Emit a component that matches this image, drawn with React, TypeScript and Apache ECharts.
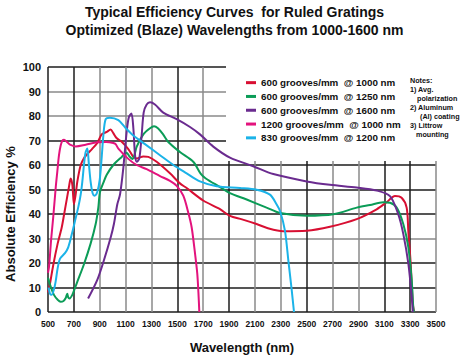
import React, { useEffect, useRef } from 'react';
import * as echarts from 'echarts';

const FONT = '"Liberation Sans", Arial, Helvetica, sans-serif';

const titleLines = [
  'Typical Efficiency Curves  for Ruled Gratings',
  'Optimized (Blaze) Wavelengths from 1000-1600 nm',
];
const xAxisName = 'Wavelength (nm)';
const yAxisName = 'Absolute Efficiency %';

const seriesNames = [
  '600 grooves/mm  @ 1000 nm',
  '600 grooves/mm  @ 1250 nm',
  '600 grooves/mm  @ 1600 nm',
  '1200 grooves/mm  @ 1000 nm',
  '830 grooves/mm  @ 1200 nm',
];
const seriesColors = ['#d80f32', '#0b9c57', '#6a2b8f', '#e3137d', '#1bb3e8'];

const red600at1000 = [
  [500, 8], [510, 10], [540, 19], [575, 28], [606, 34.5], [625, 40], [645, 46], [662, 51],
  [675, 54.5], [688, 52], [701, 44], [714, 48], [727, 53.3], [753, 60], [780, 63], [804, 64.5],
  [840, 66.5], [881, 69], [915, 72.5], [954, 73.5], [984, 74.5], [1005, 73], [1030, 71],
  [1070, 69.5], [1121, 66.5], [1160, 63.3], [1186, 62.7], [1237, 63.5], [1276, 63.3],
  [1340, 61.3], [1443, 56.6], [1520, 52.5], [1572, 50.6], [1700, 45.5], [1830, 42],
  [1907, 39.2], [2000, 37.8], [2113, 35.9], [2200, 34.2], [2317, 33], [2500, 33.2],
  [2680, 34.8], [2887, 37.9], [3041, 41.9], [3118, 44.8], [3183, 47.3], [3234, 46.6],
  [3273, 42.6], [3286, 33], [3304, 20], [3320, 4], [3330, 0],
];
const green600at1250 = [
  [500, 14], [521, 10.4], [546, 7], [575, 5], [598, 4.2], [620, 4.5], [637, 5.7], [649, 7.5],
  [656, 6], [667, 5.5], [688, 7], [710, 10], [727, 12.4], [778, 19.5], [830, 28], [869, 36],
  [889, 42.6], [902, 49], [930, 53], [954, 56], [1005, 60], [1070, 63.3], [1108, 65],
  [1130, 63.5], [1152, 62.5], [1168, 64], [1186, 67.5], [1237, 72.5], [1289, 75], [1320, 75.8],
  [1350, 75], [1390, 72.5], [1430, 69.4], [1520, 65.3], [1623, 61.3], [1680, 56.5],
  [1720, 54.5], [1830, 51], [1907, 48.5], [2036, 45.9], [2190, 42.6], [2294, 40.4],
  [2500, 39.3], [2706, 39.9], [2887, 42.6], [2990, 43.7], [3092, 44.8], [3144, 44.6],
  [3196, 42.6], [3247, 35.9], [3286, 26.5], [3312, 13.1], [3324, 2], [3330, 0],
];
const purple600at1600 = [
  [810, 5.5], [881, 13.1], [933, 21.2], [985, 30.5], [1010, 36], [1036, 44], [1057, 48],
  [1082, 58.6], [1108, 73.4], [1125, 79.5], [1145, 81], [1160, 75], [1173, 64], [1186, 61.3],
  [1206, 62.7], [1224, 72], [1240, 81.5], [1263, 84.7], [1289, 85.6], [1327, 84.7],
  [1391, 81.4], [1495, 78.7], [1598, 75.5], [1675, 72.5], [1778, 67.5], [1907, 63],
  [2087, 59.5], [2242, 56.3], [2500, 53.3], [2680, 51.9], [2887, 50.8], [3041, 49.6],
  [3144, 47.3], [3208, 39.9], [3247, 31.9], [3286, 19.8], [3312, 6.4], [3320, 0],
];
const magenta1200at1000 = [
  [500, 16], [508, 18.5], [525, 30], [541, 39], [560, 51], [572, 57.3], [585, 64], [598, 68],
  [612, 70], [624, 70.3], [645, 69.5], [670, 68.3], [714, 67.6], [791, 68.3], [881, 69.3],
  [950, 69.4], [1005, 69], [1023, 68.5], [1044, 66.7], [1121, 62.5], [1186, 60], [1263, 58.3],
  [1366, 55.5], [1443, 53.5], [1495, 51.5], [1546, 47.5], [1585, 40.5], [1611, 34.5],
  [1637, 23.8], [1654, 15.8], [1663, 8], [1670, 0],
];
const cyan830at1200 = [
  [505, 10], [515, 7.5], [528, 7], [554, 11], [575, 18], [593, 21.8], [631, 24], [657, 26.5],
  [690, 33], [709, 37.2], [735, 43], [753, 48], [765, 53], [778, 60], [790, 65], [804, 66.7],
  [815, 61], [830, 53], [845, 48.5], [860, 47.5], [881, 49], [900, 54], [915, 63], [928, 72],
  [946, 78.7], [979, 79.3], [1044, 78.3], [1095, 75.4], [1160, 72], [1263, 68], [1366, 64],
  [1469, 60], [1572, 56.6], [1675, 53.3], [1804, 51.3], [1984, 50.6], [2113, 49.9],
  [2216, 47.9], [2268, 43.9], [2294, 41.2], [2332, 33.2], [2358, 21.2], [2384, 9.1], [2402, 0],
];
const seriesData = [red600at1000, green600at1250, purple600at1600, magenta1200at1000, cyan830at1200];

// vertical gridlines: labelled ticks and their shade (k = black, g = gray)
const xTicks = [500, 700, 900, 1100, 1300, 1500, 1700, 1900, 2100, 2300, 2500, 2700, 2900, 3100, 3300, 3500];
const xTickShade = ['k', 'k', 'g', 'g', 'g', 'k', 'g', 'k', 'g', 'g', 'k', 'g', 'g', 'k', 'k', 'g'];
const yTicks = [0, 10, 20, 30, 40, 50, 60, 70, 80, 90, 100];
const yTickShade = ['k', 'k', 'k', 'g', 'k', 'k', 'k', 'k', 'g', 'g', 'k'];

const notesLines = ['Notes:', '1) Avg.', 'polarization', '2) Aluminum', '(Al) coating', '3) Littrow', 'mounting'];
const notesIndent = [0, 0, 7, 0, 10, 0, 6];

const SHADE: Record<string, string> = { k: '#1c1c1c', g: '#8a8a8a' };

export default function App() {
  const ref = useRef<HTMLDivElement>(null);
  useEffect(() => {
    document.body.style.margin = '0';
    if (!ref.current) return;
    const chart = echarts.init(ref.current, undefined, { renderer: 'svg' });

    const xMin = xTicks[0];
    const xMax = xTicks[xTicks.length - 1];
    const step = (xTicks[1] - xTicks[0]) / 2;
    const xColors: string[] = [];
    for (let v = xMin; v <= xMax; v += step) {
      const idx = xTicks.indexOf(v);
      xColors.push(idx >= 0 ? SHADE[xTickShade[idx]] : 'rgba(0,0,0,0)');
    }
    const yColors = yTicks.map((_, i) => SHADE[yTickShade[i]]);

    const gridLeft = 48, gridTop = 67, gridRight = 33, gridBottom = 43;

    const graphics: any[] = [
      {
        type: 'rect', z: 1, silent: true,
        shape: { x: 226, y: 50, width: 230, height: 111 },
        style: { fill: '#ffffff' },
      },
      {
        type: 'text', z: 5, x: 10, y: 214, rotation: Math.PI / 2,
        style: {
          text: yAxisName, font: `bold 13px ${FONT}`, fill: '#111',
          textAlign: 'center', textVerticalAlign: 'middle',
        },
      },
    ];
    notesLines.forEach((t, i) => {
      graphics.push({
        type: 'text', z: 5, x: 410 + notesIndent[i], y: 80 + i * 9,
        style: {
          text: t, font: `bold 7.2px ${FONT}`, fill: '#111',
          textAlign: 'left', textVerticalAlign: 'middle',
        },
      });
    });

    chart.setOption({
      animation: false,
      backgroundColor: '#ffffff',
      title: {
        text: titleLines.join('\n'),
        left: 'center',
        top: -2,
        textStyle: { fontFamily: FONT, fontWeight: 'bold', fontSize: 14, lineHeight: 18, color: '#111' },
      },
      legend: {
        orient: 'vertical',
        left: 241,
        top: 71,
        itemWidth: 10,
        itemHeight: 3,
        itemGap: 0.5,
        icon: 'rect',
        data: seriesNames,
        textStyle: { fontFamily: FONT, fontWeight: 'bold', fontSize: 9.8, lineHeight: 13.3, color: '#111' },
      },
      grid: { left: gridLeft, top: gridTop, right: gridRight, bottom: gridBottom },
      xAxis: {
        type: 'value',
        min: xMin,
        max: xMax,
        interval: step,
        name: xAxisName,
        nameLocation: 'middle',
        nameGap: 29,
        nameTextStyle: { fontFamily: FONT, fontWeight: 'bold', fontSize: 13, color: '#111' },
        axisLine: { show: false },
        axisTick: { show: false },
        axisLabel: {
          margin: 7,
          fontFamily: FONT, fontWeight: 'bold', fontSize: 8.5, color: '#111',
          formatter: (v: number) => (xTicks.indexOf(v) >= 0 ? String(v) : ''),
        },
        splitLine: { show: true, lineStyle: { color: xColors, width: 1.5 } },
      },
      yAxis: {
        type: 'value',
        min: yTicks[0],
        max: yTicks[yTicks.length - 1],
        interval: yTicks[1] - yTicks[0],
        axisLine: { show: false },
        axisTick: { show: false },
        axisLabel: { margin: 7, fontFamily: FONT, fontWeight: 'bold', fontSize: 11, color: '#111' },
        splitLine: { show: true, lineStyle: { color: yColors, width: 1.5 } },
      },
      graphic: graphics,
      series: seriesNames.map((name, i) => ({
        name,
        type: 'line',
        data: seriesData[i],
        showSymbol: false,
        symbol: 'none',
        smooth: 0.3,
        z: 3,
        color: seriesColors[i],
        lineStyle: { width: 2, color: seriesColors[i] },
      })),
    });
    return () => chart.dispose();
  }, []);
  return <div ref={ref} style={{ width: 469, height: 359 }} />;
}
